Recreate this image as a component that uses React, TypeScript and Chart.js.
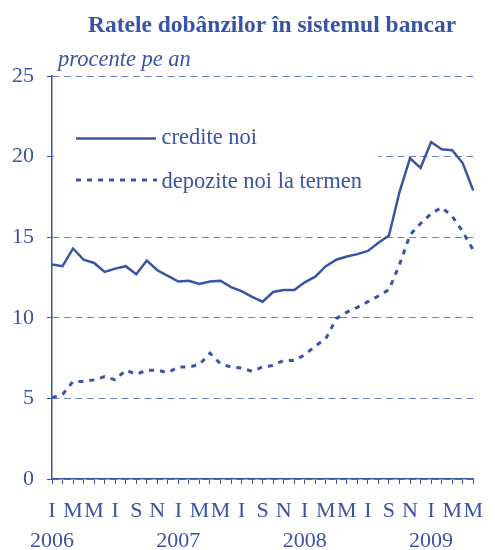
import React, { useEffect, useRef } from 'react';
import { Chart, registerables } from 'chart.js';

Chart.register(...registerables);

// Month initials (Romanian), every second month labelled, Jan 2006 .. May 2009
const monthLabels = [
  'I', '', 'M', '', 'M', '', 'I', '', 'S', '', 'N', '',
  'I', '', 'M', '', 'M', '', 'I', '', 'S', '', 'N', '',
  'I', '', 'M', '', 'M', '', 'I', '', 'S', '', 'N', '',
  'I', '', 'M', '', 'M',
];
const yearLabels = ['2006', '2007', '2008', '2009'];

const crediteNoi = [
  13.3, 13.2, 14.3, 13.6, 13.4, 12.85, 13.05, 13.2, 12.7, 13.55, 12.95, 12.6,
  12.25, 12.3, 12.1, 12.25, 12.3, 11.9, 11.65, 11.3, 11.0, 11.6, 11.72, 11.72,
  12.2, 12.55, 13.2, 13.6, 13.8, 13.95, 14.15, 14.65, 15.1, 17.8, 19.9, 19.3,
  20.9, 20.45, 20.4, 19.6, 17.9,
];
const depoziteNoi = [
  5.05, 5.25, 6.05, 6.05, 6.15, 6.35, 6.15, 6.75, 6.5, 6.75, 6.75, 6.6,
  6.95, 6.95, 7.1, 7.8, 7.15, 6.95, 6.88, 6.68, 6.95, 7.05, 7.35, 7.35,
  7.7, 8.25, 8.7, 9.95, 10.35, 10.65, 11.0, 11.35, 11.75, 13.3, 15.15, 15.85,
  16.45, 16.85, 16.3, 15.35, 14.2,
];
const seriesNames = ['credite noi', 'depozite noi la termen'];
const titleText = 'Ratele dobânzilor în sistemul bancar';
const unitText = 'procente pe an';
const yMin = 0;
const yMax = 25;
const yStep = 5;

const BLUE = '#3a54a5';
const GRID = '#6d82c6';
const FONT = "'Liberation Serif', 'Times New Roman', serif";

const overlayPlugin = {
  id: 'overlay',
  beforeDatasetsDraw(chart: any) {
    const ctx = chart.ctx as CanvasRenderingContext2D;
    const ds = chart.data.datasets;
    ctx.save();
    ctx.fillStyle = '#ffffff';
    ctx.fillRect(54, 108, 324, 98);
    ctx.strokeStyle = BLUE;
    ctx.lineWidth = 2.5;
    ctx.beginPath();
    ctx.moveTo(76, 138.5);
    ctx.lineTo(156, 138.5);
    ctx.stroke();
    ctx.lineWidth = 3;
    ctx.setLineDash([5, 6]);
    ctx.beginPath();
    ctx.moveTo(76, 180);
    ctx.lineTo(157, 180);
    ctx.stroke();
    ctx.setLineDash([]);
    ctx.fillStyle = BLUE;
    ctx.font = `22.5px ${FONT}`;
    ctx.textAlign = 'left';
    ctx.textBaseline = 'alphabetic';
    ctx.fillText(ds[0].label, 161.5, 144);
    ctx.fillText(ds[1].label, 161.5, 188);
    ctx.restore();
  },
  afterDraw(chart: any) {
    const ctx = chart.ctx as CanvasRenderingContext2D;
    ctx.save();
    ctx.fillStyle = BLUE;
    ctx.textBaseline = 'alphabetic';
    ctx.textAlign = 'center';
    ctx.font = `bold 23.5px ${FONT}`;
    ctx.fillText(titleText, 272, 32);
    ctx.textAlign = 'left';
    ctx.font = `italic 22.5px ${FONT}`;
    ctx.fillText(unitText, 58, 65.5);
    ctx.restore();
  },
};

export default function App() {
  const canvasRef = useRef<HTMLCanvasElement | null>(null);

  useEffect(() => {
    if (!canvasRef.current) return;
    const labels = monthLabels.map((m, i) =>
      i % 12 === 0 ? [m, yearLabels[i / 12]] : m
    );
    const chart = new Chart(canvasRef.current, {
      type: 'line',
      data: {
        labels,
        datasets: [
          {
            label: seriesNames[0],
            data: crediteNoi,
            borderColor: BLUE,
            borderWidth: 2.5,
            pointRadius: 0,
            tension: 0,
            fill: false,
          },
          {
            label: seriesNames[1],
            data: depoziteNoi,
            borderColor: BLUE,
            borderWidth: 3,
            borderDash: [5, 6],
            pointRadius: 0,
            tension: 0,
            fill: false,
          },
        ],
      },
      options: {
        animation: false,
        responsive: true,
        maintainAspectRatio: false,
        layout: { padding: { top: 76, right: 12, left: 0, bottom: 0 } },
        plugins: {
          legend: { display: false },
          title: { display: false },
          tooltip: { enabled: false },
        },
        scales: {
          x: {
            type: 'category',
            offset: false,
            afterFit: (scale: any) => {
              scale.height = 71;
            },
            grid: {
              display: true,
              drawOnChartArea: false,
              drawTicks: true,
              tickLength: 5,
              tickColor: BLUE,
              color: BLUE,
            },
            border: { display: true, color: BLUE, width: 1.5 },
            ticks: {
              autoSkip: false,
              maxRotation: 0,
              minRotation: 0,
              padding: 12,
              color: BLUE,
              font: { family: FONT, size: 22, lineHeight: 1.364 },
            },
          },
          y: {
            min: yMin,
            max: yMax,
            afterFit: (scale: any) => {
              scale.width = 52;
            },
            grid: {
              display: true,
              drawTicks: true,
              tickLength: 5,
              color: GRID,
              tickColor: BLUE,
              lineWidth: 1,
            },
            border: { display: true, color: BLUE, width: 1.5, dash: [7, 4.5] },
            ticks: {
              stepSize: yStep,
              padding: 13,
              color: BLUE,
              font: { family: FONT, size: 22 },
            },
          },
        },
      },
      plugins: [overlayPlugin],
    });
    return () => chart.destroy();
  }, []);

  return (
    <div style={{ position: 'fixed', left: 0, top: 0, width: 495, height: 550, background: '#fff' }}>
      <canvas ref={canvasRef} />
    </div>
  );
}
